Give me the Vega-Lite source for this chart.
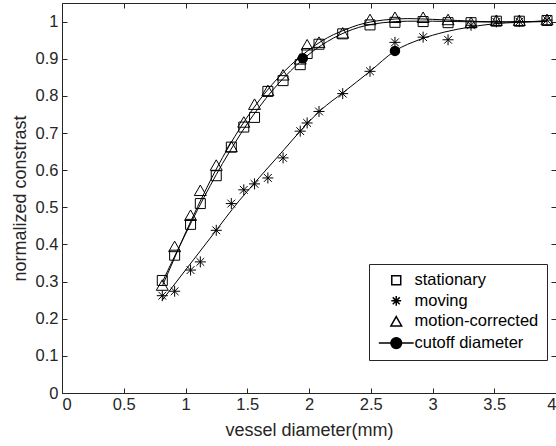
{
  "$schema": "https://vega.github.io/schema/vega-lite/v6.json",
  "width": 494,
  "height": 390,
  "autosize": {"type": "none"},
  "padding": {"left": 62, "top": 3, "right": 0, "bottom": 53},
  "background": "white",
  "config": {
    "font": "Liberation Sans",
    "view": {"stroke": null},
    "axis": {
      "domainColor": "#262626", "tickColor": "#262626", "labelColor": "#262626", "titleColor": "#262626",
      "grid": false, "tickSize": -5, "labelFontSize": 16.5, "titleFontSize": 18, "titleFontWeight": "normal",
      "labelFont": "Liberation Sans", "titleFont": "Liberation Sans"
    }
  },
  "datasets": {
    "pts": [
      {"s":"stationary","x":0.812,"y":0.303},{"s":"stationary","x":0.912,"y":0.371},{"s":"stationary","x":1.041,"y":0.454},{"s":"stationary","x":1.12,"y":0.51},{"s":"stationary","x":1.249,"y":0.585},{"s":"stationary","x":1.371,"y":0.662},{"s":"stationary","x":1.472,"y":0.716},{"s":"stationary","x":1.559,"y":0.742},{"s":"stationary","x":1.667,"y":0.812},{"s":"stationary","x":1.79,"y":0.841},{"s":"stationary","x":1.929,"y":0.884},{"s":"stationary","x":1.985,"y":0.914},{"s":"stationary","x":2.081,"y":0.939},{"s":"stationary","x":2.273,"y":0.967},{"s":"stationary","x":2.494,"y":0.991},{"s":"stationary","x":2.696,"y":0.998},{"s":"stationary","x":2.924,"y":1.0},{"s":"stationary","x":3.126,"y":0.997},{"s":"stationary","x":3.312,"y":0.997},{"s":"stationary","x":3.517,"y":1.001},{"s":"stationary","x":3.703,"y":1.001},{"s":"stationary","x":3.927,"y":1.003},
      {"s":"moving","x":0.812,"y":0.262},{"s":"moving","x":0.912,"y":0.274},{"s":"moving","x":1.041,"y":0.331},{"s":"moving","x":1.12,"y":0.353},{"s":"moving","x":1.249,"y":0.438},{"s":"moving","x":1.371,"y":0.51},{"s":"moving","x":1.472,"y":0.547},{"s":"moving","x":1.559,"y":0.563},{"s":"moving","x":1.667,"y":0.579},{"s":"moving","x":1.79,"y":0.633},{"s":"moving","x":1.929,"y":0.705},{"s":"moving","x":1.985,"y":0.727},{"s":"moving","x":2.081,"y":0.758},{"s":"moving","x":2.273,"y":0.806},{"s":"moving","x":2.494,"y":0.866},{"s":"moving","x":2.696,"y":0.944},{"s":"moving","x":2.924,"y":0.958},{"s":"moving","x":3.126,"y":0.951},{"s":"moving","x":3.312,"y":0.99},{"s":"moving","x":3.517,"y":0.999},{"s":"moving","x":3.703,"y":1.0},{"s":"moving","x":3.927,"y":1.004},
      {"s":"motion-corrected","x":0.812,"y":0.29},{"s":"motion-corrected","x":0.912,"y":0.394},{"s":"motion-corrected","x":1.041,"y":0.478},{"s":"motion-corrected","x":1.12,"y":0.545},{"s":"motion-corrected","x":1.249,"y":0.613},{"s":"motion-corrected","x":1.371,"y":0.663},{"s":"motion-corrected","x":1.472,"y":0.729},{"s":"motion-corrected","x":1.559,"y":0.777},{"s":"motion-corrected","x":1.667,"y":0.814},{"s":"motion-corrected","x":1.79,"y":0.856},{"s":"motion-corrected","x":1.929,"y":0.899},{"s":"motion-corrected","x":1.985,"y":0.937},{"s":"motion-corrected","x":2.081,"y":0.944},{"s":"motion-corrected","x":2.273,"y":0.969},{"s":"motion-corrected","x":2.494,"y":1.005},{"s":"motion-corrected","x":2.696,"y":1.011},{"s":"motion-corrected","x":2.924,"y":1.011},{"s":"motion-corrected","x":3.126,"y":1.005},{"s":"motion-corrected","x":3.312,"y":0.997},{"s":"motion-corrected","x":3.517,"y":1.003},{"s":"motion-corrected","x":3.703,"y":1.003},{"s":"motion-corrected","x":3.927,"y":1.005}
    ],
    "fit": [
      {"s":"stationary","x":0.812,"y":0.298},{"s":"stationary","x":0.9,"y":0.36},{"s":"stationary","x":1.0,"y":0.428},{"s":"stationary","x":1.1,"y":0.495},{"s":"stationary","x":1.2,"y":0.558},{"s":"stationary","x":1.3,"y":0.618},{"s":"stationary","x":1.4,"y":0.673},{"s":"stationary","x":1.5,"y":0.725},{"s":"stationary","x":1.6,"y":0.771},{"s":"stationary","x":1.7,"y":0.813},{"s":"stationary","x":1.8,"y":0.85},{"s":"stationary","x":1.9,"y":0.883},{"s":"stationary","x":2.0,"y":0.912},{"s":"stationary","x":2.1,"y":0.936},{"s":"stationary","x":2.2,"y":0.956},{"s":"stationary","x":2.3,"y":0.972},{"s":"stationary","x":2.4,"y":0.984},{"s":"stationary","x":2.5,"y":0.992},{"s":"stationary","x":2.6,"y":0.997},{"s":"stationary","x":2.7,"y":1.0},{"s":"stationary","x":2.8,"y":1.001},{"s":"stationary","x":3.0,"y":1.001},{"s":"stationary","x":3.2,"y":1.0},{"s":"stationary","x":3.4,"y":0.999},{"s":"stationary","x":3.6,"y":0.999},{"s":"stationary","x":3.8,"y":1.0},{"s":"stationary","x":3.927,"y":1.001},
      {"s":"motion-corrected","x":0.812,"y":0.288},{"s":"motion-corrected","x":0.9,"y":0.355},{"s":"motion-corrected","x":1.0,"y":0.431},{"s":"motion-corrected","x":1.1,"y":0.503},{"s":"motion-corrected","x":1.2,"y":0.571},{"s":"motion-corrected","x":1.3,"y":0.634},{"s":"motion-corrected","x":1.4,"y":0.691},{"s":"motion-corrected","x":1.5,"y":0.743},{"s":"motion-corrected","x":1.6,"y":0.789},{"s":"motion-corrected","x":1.7,"y":0.83},{"s":"motion-corrected","x":1.8,"y":0.866},{"s":"motion-corrected","x":1.9,"y":0.897},{"s":"motion-corrected","x":2.0,"y":0.924},{"s":"motion-corrected","x":2.1,"y":0.947},{"s":"motion-corrected","x":2.2,"y":0.965},{"s":"motion-corrected","x":2.3,"y":0.979},{"s":"motion-corrected","x":2.4,"y":0.991},{"s":"motion-corrected","x":2.5,"y":0.999},{"s":"motion-corrected","x":2.6,"y":1.004},{"s":"motion-corrected","x":2.7,"y":1.007},{"s":"motion-corrected","x":2.8,"y":1.008},{"s":"motion-corrected","x":3.0,"y":1.006},{"s":"motion-corrected","x":3.2,"y":1.003},{"s":"motion-corrected","x":3.4,"y":1.0},{"s":"motion-corrected","x":3.6,"y":0.999},{"s":"motion-corrected","x":3.8,"y":1.0},{"s":"motion-corrected","x":3.927,"y":1.002},
      {"s":"moving","x":0.812,"y":0.25},{"s":"moving","x":1.0,"y":0.331},{"s":"moving","x":1.2,"y":0.417},{"s":"moving","x":1.438,"y":0.519},{"s":"moving","x":1.6,"y":0.581},{"s":"moving","x":1.8,"y":0.656},{"s":"moving","x":1.929,"y":0.705},{"s":"moving","x":2.1,"y":0.763},{"s":"moving","x":2.273,"y":0.808},{"s":"moving","x":2.494,"y":0.866},{"s":"moving","x":2.696,"y":0.921},{"s":"moving","x":2.9,"y":0.952},{"s":"moving","x":3.1,"y":0.972},{"s":"moving","x":3.3,"y":0.985},{"s":"moving","x":3.5,"y":0.994},{"s":"moving","x":3.7,"y":0.998},{"s":"moving","x":3.927,"y":1.0}
    ],
    "cut": [
      {"s":"cutoff diameter","x":1.95,"y":0.901},
      {"s":"cutoff diameter","x":2.696,"y":0.921}
    ]
  },
  "resolve": {"axis": {"x": "independent", "y": "independent"}},
  "layer": [
    {
      "data": {"name": "fit"},
      "mark": {"type": "line", "color": "black", "strokeWidth": 1, "interpolate": "monotone"},
      "encoding": {
        "x": {"field": "x", "type": "quantitative", "scale": {"domain": [0, 4], "nice": false, "zero": false},
          "axis": {"orient": "bottom", "values": [0,0.5,1,1.5,2,2.5,3,3.5,4], "format": "~g", "title": "vessel diameter(mm)", "labelPadding": 8, "titleY": 42, "titleBaseline": "alphabetic"}},
        "y": {"field": "y", "type": "quantitative", "scale": {"domain": [0, 1.05], "nice": false, "zero": false},
          "axis": {"orient": "left", "values": [0,0.1,0.2,0.3,0.4,0.5,0.6,0.7,0.8,0.9,1], "format": "~g", "title": "normalized constrast", "labelPadding": 9, "titleX": -37, "titleBaseline": "alphabetic"}},
        "detail": {"field": "s"}
      }
    },
    {
      "data": {"name": "pts"},
      "mark": {"type": "point", "filled": true, "stroke": "black", "strokeWidth": 1, "size": 100, "opacity": 1},
      "encoding": {
        "x": {"field": "x", "type": "quantitative", "axis": null},
        "y": {"field": "y", "type": "quantitative", "axis": null},
        "shape": {"field": "s", "type": "nominal",
          "scale": {"domain": ["stationary", "moving", "motion-corrected", "cutoff diameter"],
            "range": ["M-1,-1H1V1H-1Z", "M-1.1,0H1.1M0,-1.1V1.1M-0.78,-0.78L0.78,0.78M-0.78,0.78L0.78,-0.78", "M0,-1.1L1.2,1L-1.2,1Z", "M-3.9,0H3.9M1.2,0C1.2,0.663 0.663,1.2 0,1.2C-0.663,1.2 -1.2,0.663 -1.2,0C-1.2,-0.663 -0.663,-1.2 0,-1.2C0.663,-1.2 1.2,-0.663 1.2,0Z"]},
          "legend": {"title": null, "orient": "none", "legendX": 307, "legendY": 261, "padding": 8, "symbolSize": 80, "symbolOffset": 11, "labelOffset": 10, "rowPadding": 3.6, "labelFontSize": 16.5, "labelFont": "Liberation Sans", "labelColor": "black", "strokeColor": "#262626", "fillColor": "white",
            "encode": {"symbols": {"update": {"fill": {"scale": "fill", "field": "value"}, "stroke": {"value": "black"}, "strokeWidth": {"value": 1}, "opacity": {"value": 1}}}}}},
        "fill": {"field": "s", "type": "nominal",
          "scale": {"domain": ["stationary", "moving", "motion-corrected", "cutoff diameter"], "range": ["transparent", "transparent", "transparent", "black"]},
          "legend": null}
      }
    },
    {
      "data": {"name": "cut"},
      "mark": {"type": "point", "shape": "circle", "filled": true, "color": "black", "size": 110, "opacity": 1},
      "encoding": {
        "x": {"field": "x", "type": "quantitative",
          "axis": {"orient": "top", "values": [0,0.5,1,1.5,2,2.5,3,3.5,4], "labels": false, "title": null}},
        "y": {"field": "y", "type": "quantitative",
          "axis": {"orient": "right", "values": [0,0.1,0.2,0.3,0.4,0.5,0.6,0.7,0.8,0.9,1], "labels": false, "title": null}}
      }
    }
  ]
}
